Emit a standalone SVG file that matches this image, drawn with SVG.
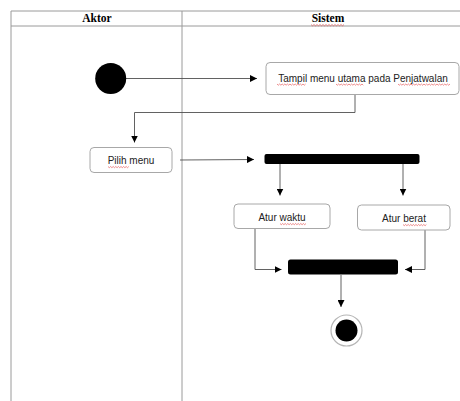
<svg xmlns="http://www.w3.org/2000/svg" width="460" height="401" viewBox="0 0 460 401">
  <defs>
    <marker id="arrow" viewBox="0 0 8 8" refX="8" refY="4" markerWidth="7" markerHeight="7" markerUnits="userSpaceOnUse" orient="auto">
      <path d="M0,0 L8,4 L0,8 Z" fill="#000"/>
    </marker>
    <path id="squiggle" d="M0,0 l1,1.2 l1,-1.2 l1,1.2 l1,-1.2 l1,1.2 l1,-1.2 l1,1.2 l1,-1.2 l1,1.2 l1,-1.2" fill="none" stroke="#e04040" stroke-width="0.6"/>
  </defs>
  <style>
    .grid { stroke: #9a9a9a; stroke-width: 1; fill: none; }
    .head { font-family: "Liberation Serif", "Times New Roman", serif; font-weight: bold; font-size: 11.5px; fill: #000; text-anchor: middle; }
    .box { fill: #fff; stroke: #a8a8a8; stroke-width: 1; }
    .label { font-family: "Liberation Sans", Arial, sans-serif; font-size: 10px; fill: #222; text-anchor: middle; }
    .flow { stroke: #505050; stroke-width: 0.9; fill: none; }
    .spell { fill: none; stroke: #e04040; stroke-width: 0.6; }
  </style>
  <rect width="460" height="401" fill="#fff"/>

  <!-- swimlane table -->
  <g id="lanes">
    <line class="grid" x1="11" y1="11" x2="460" y2="11"/>
    <line class="grid" x1="11" y1="26" x2="460" y2="26"/>
    <line class="grid" x1="11" y1="11" x2="11" y2="401"/>
    <line class="grid" x1="182" y1="11" x2="182" y2="401"/>
    <text class="head" x="97" y="22">Aktor</text>
    <text class="head" x="328" y="22">Sistem</text>
    <path class="spell" d="M311,24.5 l1.5,1.3 l1.5,-1.3 l1.5,1.3 l1.5,-1.3 l1.5,1.3 l1.5,-1.3 l1.5,1.3 l1.5,-1.3 l1.5,1.3 l1.5,-1.3 l1.5,1.3 l1.5,-1.3 l1.5,1.3 l1.5,-1.3 l1.5,1.3 l1.5,-1.3 l1.5,1.3 l1.5,-1.3 l1.5,1.3 l1.5,-1.3 l1.5,1.3 l1.5,-1.3"/>
  </g>

  <!-- connectors -->
  <g id="connectors">
    <line class="flow" x1="126" y1="78.5" x2="257" y2="78.5" marker-end="url(#arrow)"/>
    <polyline class="flow" points="355,94.5 355,112.5 134.5,112.5 134.5,142.5" marker-end="url(#arrow)"/>
    <line class="flow" x1="180" y1="160" x2="254" y2="159.5" marker-end="url(#arrow)"/>
    <line class="flow" x1="280" y1="164" x2="280" y2="195.5" marker-end="url(#arrow)"/>
    <line class="flow" x1="403" y1="164" x2="403" y2="195.5" marker-end="url(#arrow)"/>
    <polyline class="flow" points="255,228.5 255,269.5 281.5,269.5" marker-end="url(#arrow)"/>
    <polyline class="flow" points="425,230 425,269.5 405,269.5" marker-end="url(#arrow)"/>
    <line class="flow" x1="341" y1="275" x2="341" y2="307" marker-end="url(#arrow)"/>
  </g>

  <g id="start">
    <circle cx="110.7" cy="78.5" r="15.5" fill="#000"/>
  </g>

  <g id="tampil-menu">
    <rect class="box" x="266" y="62.5" width="193" height="32" rx="4"/>
    <text class="label" x="363" y="81.5">Tampil menu utama pada Penjatwalan</text>
    <path class="spell" d="M277,84 l1.3,1.2 l1.3,-1.2 l1.3,1.2 l1.3,-1.2 l1.3,1.2 l1.3,-1.2 l1.3,1.2 l1.3,-1.2 l1.3,1.2 l1.3,-1.2 l1.3,1.2 l1.3,-1.2 l1.3,1.2 l1.3,-1.2 l1.3,1.2 l1.3,-1.2 l1.3,1.2 l1.3,-1.2 l1.3,1.2 l1.3,-1.2 l1.3,1.2 l1.3,-1.2"/>
    <path class="spell" d="M336,84 l1.3,1.2 l1.3,-1.2 l1.3,1.2 l1.3,-1.2 l1.3,1.2 l1.3,-1.2 l1.3,1.2 l1.3,-1.2 l1.3,1.2 l1.3,-1.2 l1.3,1.2 l1.3,-1.2 l1.3,1.2 l1.3,-1.2 l1.3,1.2 l1.3,-1.2 l1.3,1.2 l1.3,-1.2 l1.3,1.2 l1.3,-1.2 l1.3,1.2"/>
    <path class="spell" d="M398,84 l1.3,1.2 l1.3,-1.2 l1.3,1.2 l1.3,-1.2 l1.3,1.2 l1.3,-1.2 l1.3,1.2 l1.3,-1.2 l1.3,1.2 l1.3,-1.2 l1.3,1.2 l1.3,-1.2 l1.3,1.2 l1.3,-1.2 l1.3,1.2 l1.3,-1.2 l1.3,1.2 l1.3,-1.2 l1.3,1.2 l1.3,-1.2 l1.3,1.2 l1.3,-1.2 l1.3,1.2 l1.3,-1.2 l1.3,1.2 l1.3,-1.2 l1.3,1.2 l1.3,-1.2 l1.3,1.2 l1.3,-1.2 l1.3,1.2 l1.3,-1.2 l1.3,1.2 l1.3,-1.2 l1.3,1.2 l1.3,-1.2 l1.3,1.2 l1.3,-1.2 l1.3,1.2 l1.3,-1.2"/>
  </g>

  <g id="pilih-menu">
    <rect class="box" x="90" y="147.5" width="82" height="25" rx="4"/>
    <text class="label" x="131" y="164">Pilih menu</text>
    <path class="spell" d="M108,166.5 l1.3,1.2 l1.3,-1.2 l1.3,1.2 l1.3,-1.2 l1.3,1.2 l1.3,-1.2 l1.3,1.2 l1.3,-1.2 l1.3,1.2 l1.3,-1.2 l1.3,1.2 l1.3,-1.2 l1.3,1.2 l1.3,-1.2 l1.3,1.2 l1.3,-1.2"/>
  </g>

  <g id="fork">
    <rect x="264.5" y="154" width="155" height="10" rx="2" fill="#000"/>
  </g>

  <g id="atur-waktu">
    <rect class="box" x="234" y="204" width="96" height="24.5" rx="4"/>
    <text class="label" x="282" y="221">Atur waktu</text>
    <path class="spell" d="M280,223.5 l1.3,1.2 l1.3,-1.2 l1.3,1.2 l1.3,-1.2 l1.3,1.2 l1.3,-1.2 l1.3,1.2 l1.3,-1.2 l1.3,1.2 l1.3,-1.2 l1.3,1.2 l1.3,-1.2 l1.3,1.2 l1.3,-1.2 l1.3,1.2 l1.3,-1.2 l1.3,1.2 l1.3,-1.2 l1.3,1.2 l1.3,-1.2"/>
  </g>

  <g id="atur-berat">
    <rect class="box" x="357.5" y="205" width="92.5" height="25" rx="4"/>
    <text class="label" x="404" y="222">Atur berat</text>
    <path class="spell" d="M403,224.5 l1.3,1.2 l1.3,-1.2 l1.3,1.2 l1.3,-1.2 l1.3,1.2 l1.3,-1.2 l1.3,1.2 l1.3,-1.2 l1.3,1.2 l1.3,-1.2 l1.3,1.2 l1.3,-1.2 l1.3,1.2 l1.3,-1.2 l1.3,1.2 l1.3,-1.2 l1.3,1.2 l1.3,-1.2"/>
  </g>

  <g id="join">
    <rect x="288" y="259.5" width="110" height="15" rx="2.5" fill="#000"/>
  </g>

  <g id="end">
    <circle cx="346.5" cy="330.5" r="15.5" fill="#fff" stroke="#b5b5b5" stroke-width="1.2"/>
    <circle cx="346.5" cy="330.5" r="11" fill="#000"/>
  </g>
</svg>
